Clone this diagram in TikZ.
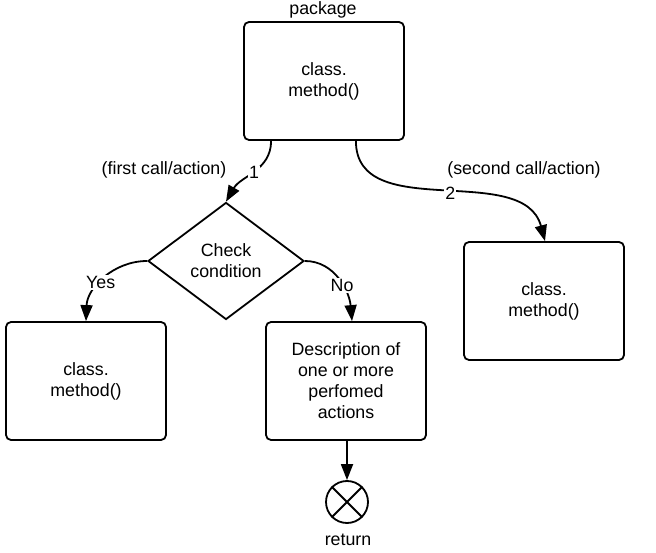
\documentclass[tikz,border=0pt]{standalone}
\usepackage{fontspec}
\setmainfont{Liberation Sans}
\usetikzlibrary{shapes.geometric, arrows.meta}

\tikzset{
  box/.style={draw, rounded corners=5pt, minimum width=160pt, minimum height=118pt, align=center, inner sep=0pt},
  cond/.style={draw, diamond, minimum width=156pt, minimum height=117pt, align=center, inner sep=0pt},
  lbl/.style={fill=white, inner sep=1pt},
  txt/.style={anchor=base, inner sep=0pt}
}

\begin{document}
\begin{tikzpicture}[x=1pt, y=-1pt, ->, >={Triangle[length=16pt,width=12pt]}, line width=1.8pt,
    font=\fontsize{17.8}{21}\selectfont]
      \useasboundingbox (0,0) rectangle (656,553);

      \node[box] (pkg) at (324,81) {class.\\method()};
      \node[cond] (check) at (226,261) {Check\\condition};
      \node[box] (yesm) at (86,381) {class.\\method()};
      \node[box] (desc) at (346,381) {Description of\\one or more\\perfomed\\actions};
      \node[box] (second) at (544,301) {class.\\method()};
      \node[draw, circle, minimum size=42pt, inner sep=0pt] (ret) at (347,502) {};

      \node[txt] (pkgname) at (323,15) {package};
      \node[txt] (first) at (164,175) {(first call/action)};
      \node[txt] (secondlbl) at (524,175) {(second call/action)};
      \node[txt] (retlbl) at (348,545) {return};

      \draw ([xshift=28pt]pkg.south west) to[out=-90, in=60] node[lbl] {1} (check.north);
      \draw ([xshift=-49pt]pkg.south east) to[out=-90, in=105] node[lbl, pos=0.53] {2} ([xshift=1pt]second.north);
      \draw (check.west) to[out=180, in=88] node[lbl, pos=0.56] {Yes} (yesm.north);
      \draw (check.east) to[out=0, in=95] node[lbl, pos=0.58] {No} ([xshift=6pt]desc.north);
      \draw ([xshift=1pt]desc.south) -- (ret.north);
      \draw[-] (ret.45) -- (ret.225) (ret.135) -- (ret.-45);
\end{tikzpicture}
\end{document}
